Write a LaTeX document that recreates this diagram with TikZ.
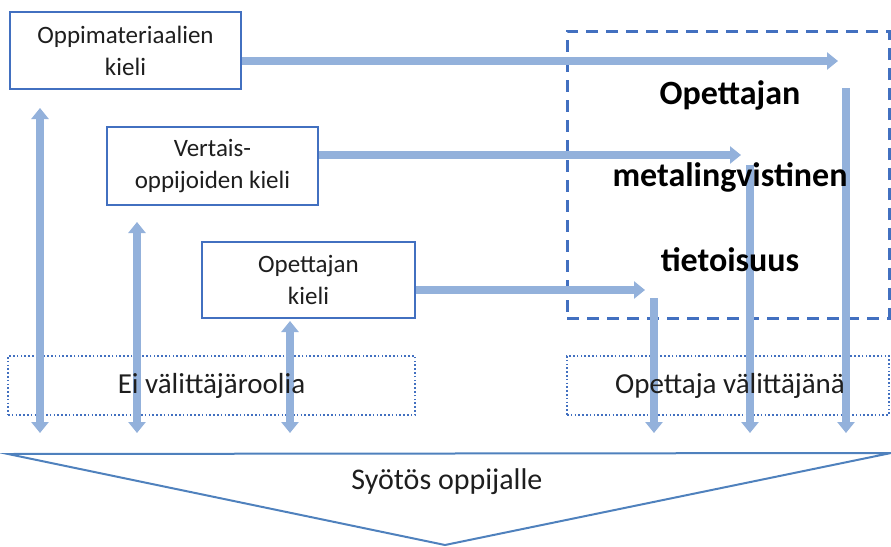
\documentclass[tikz,border=0pt]{standalone}
\usepackage{fontspec}
\setmainfont{Carlito}
\usetikzlibrary{arrows.meta}
\definecolor{boxblue}{RGB}{66,112,192}
\definecolor{arrblue}{RGB}{147,177,219}
\definecolor{triblue}{RGB}{79,129,189}
\definecolor{txt}{RGB}{30,30,30}
\tikzset{
  srcbox/.style={draw=boxblue, line width=2.5pt, fill=white, inner sep=0pt, align=center,
    text=txt, font=\fontsize{25}{32}\selectfont},
  metabox/.style={draw=boxblue, line width=3pt, dash pattern=on 12pt off 8pt, inner sep=0pt},
  rolebox/.style={draw=boxblue, line width=2pt, dash pattern=on 1.6pt off 2.2pt, inner sep=0pt},
  roletxt/.style={text=txt, font=\fontsize{29}{32}\selectfont, inner sep=0pt},
  bigtxt/.style={font=\fontsize{34}{36}\selectfont\bfseries, text=black, inner sep=0pt},
  flow/.style={draw=arrblue, line width=8pt, -{Triangle[width=17pt,length=11pt]}},
  biflow/.style={draw=arrblue, line width=8pt, {Triangle[width=17pt,length=11pt]}-{Triangle[width=17pt,length=11pt]}},
}
\begin{document}
\begin{tikzpicture}[x=1pt,y=-1pt]
\useasboundingbox (0,0) rectangle (891,546);
% role boxes
\node[rolebox, minimum width=407pt, minimum height=59pt] (d1) at (211.5,385.5) {};
\node[rolebox, minimum width=322pt, minimum height=59pt] (d2) at (728,385.5) {};
% meta box
\node[metabox, minimum width=322pt, minimum height=287pt] (meta) at (728,174.5) {};
% source boxes
\node[srcbox, minimum width=231pt, minimum height=77pt] (b1) at (125.5,50.5) {Oppimateriaalien\\kieli};
\node[srcbox, minimum width=211pt, minimum height=78pt] (b2) at (212.5,166) {Vertais-\\oppijoiden kieli};
\node[srcbox, minimum width=213pt, minimum height=76pt] (b3) at (308.5,280) {Opettajan\\kieli};
% coordinates
\coordinate (h1) at (838,61);
\coordinate (h2) at (741,155);
\coordinate (h3) at (645,290);
\coordinate (r1t) at (846,88);
\coordinate (r2t) at (750,165);
\coordinate (r3t) at (654,298);
\coordinate (r1b) at (846,433);
\coordinate (r2b) at (750,433);
\coordinate (r3b) at (654,433);
\coordinate (l1t) at (40,108);
\coordinate (l2t) at (137,222);
\coordinate (l3t) at (290,321);
\coordinate (l1b) at (40,433);
\coordinate (l2b) at (137,433);
\coordinate (l3b) at (290,433);
% horizontal arrows
\draw[flow] (b1.east |- h1) -- (h1);
\draw[flow] (b2.east |- h2) -- (h2);
\draw[flow] (b3.east |- h3) -- (h3);
% right vertical arrows
\draw[flow] (r1t) -- (r1b);
\draw[flow] (r2t) -- (r2b);
\draw[flow] (r3t) -- (r3b);
% left double arrows
\draw[biflow] (l1t) -- (l1b);
\draw[biflow] (l2t) -- (l2b);
\draw[biflow] (l3t) -- (l3b);
% role texts
\node[roletxt] (t1) at (d1) {Ei välittäjäroolia};
\node[roletxt] (t2) at (730,385.5) {Opettaja välittäjänä};
% meta text
\node[bigtxt] (m1) at (730,95) {Opettajan};
\node[bigtxt] (m2) at (730,177) {metalingvistinen};
\node[bigtxt] (m3) at (730,260) {tietoisuus};
% input triangle
\coordinate (tl) at (8,454);
\coordinate (tr) at (891,453);
\coordinate (ta) at (445,545);
\draw[triblue, line width=2pt, line join=miter] (tl) -- (tr) -- (ta) -- cycle;
\node[text=txt, font=\fontsize{30}{32}\selectfont, inner sep=0pt] (inp) at (447,482) {Syötös oppijalle};
\end{tikzpicture}
\end{document}
